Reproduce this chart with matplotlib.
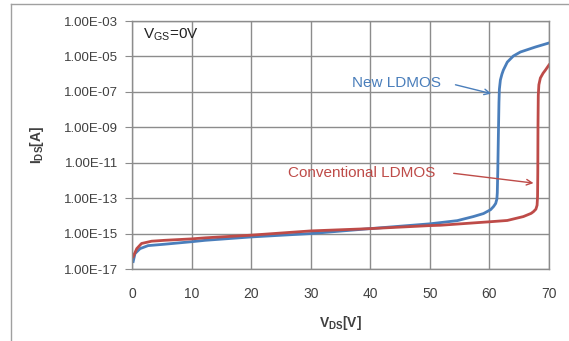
import numpy as np
import matplotlib.pyplot as plt
from matplotlib.lines import Line2D

# 데이터 (그림에서 읽은 값, log10(I_DS))
new_vds = [0.2, 0.5, 1.35, 2.7, 5.5, 10, 12.3, 20, 30, 40, 50, 51.8, 54.6, 57.3, 59.0, 60.2, 60.7, 61.05,
           61.25, 61.32, 61.4, 61.5, 61.6, 61.67, 61.84, 62.1, 62.34, 63.0, 64.0, 65.2, 67.7, 70]
new_log_ids = [-16.58, -16.13, -15.85, -15.68, -15.6, -15.46, -15.38, -15.19, -15.0, -14.72, -14.45, -14.38, -14.27, -14.04, -13.87, -13.65, -13.47, -13.3,
               -13.05, -12.7, -11.5, -9.5, -7.6, -6.85, -6.33, -6.0, -5.77, -5.32, -4.98, -4.75, -4.47, -4.24]

conv_vds = [0.2, 0.8, 1.6, 3.3, 5.5, 10, 12.3, 20, 30, 40, 50, 51.8, 60.2, 63.0, 65.7, 67.0, 67.4, 67.8,
            68.0, 68.08, 68.12, 68.15, 68.2, 68.3, 68.55, 69.0, 69.4, 70]
conv_log_ids = [-16.3, -15.85, -15.56, -15.43, -15.38, -15.3, -15.24, -15.09, -14.85, -14.72, -14.55, -14.53, -14.33, -14.26, -14.04, -13.86, -13.76, -13.62,
                -13.4, -12.9, -11.5, -9.0, -7.2, -6.6, -6.22, -5.95, -5.77, -5.48]

ytick_vals = [-17, -15, -13, -11, -9, -7, -5, -3]
ytick_labels = ['1.00E-17', '1.00E-15', '1.00E-13', '1.00E-11', '1.00E-09', '1.00E-07', '1.00E-05', '1.00E-03']
xtick_vals = [0, 10, 20, 30, 40, 50, 60, 70]

blue = '#4a7ebb'
red = '#be4b48'
grid_c = '#8c8c8c'
text_c = '#404040'

plt.rcParams['font.family'] = ['Liberation Sans', 'DejaVu Sans']

fig = plt.figure(figsize=(5.69, 3.41), dpi=100)
ax = fig.add_axes([132 / 569, 1 - 269 / 341, (549 - 132) / 569, (269 - 21) / 341])

ax.semilogy(new_vds, 10.0 ** np.array(new_log_ids), color=blue, lw=2, solid_joinstyle='round')
ax.semilogy(conv_vds, 10.0 ** np.array(conv_log_ids), color=red, lw=2, solid_joinstyle='round')

ax.set_xlim(0, 70)
ax.set_ylim(1e-17, 1e-3)
ax.set_yticks([10.0 ** v for v in ytick_vals])
ax.set_yticklabels(ytick_labels)
ax.minorticks_off()
ax.set_xticks(xtick_vals)
ax.tick_params(axis='y', length=5, color=grid_c, labelsize=9.5, labelcolor=text_c, pad=5)
ax.tick_params(axis='x', length=0, labelsize=10, labelcolor=text_c, pad=13)
ax.grid(True, color=grid_c, lw=1)
for s in ax.spines.values():
    s.set_color(grid_c)
    s.set_linewidth(1)

ax.set_xlabel('V$_{\\mathregular{DS}}$[V]', fontsize=10, fontweight='bold', color=text_c, labelpad=9)
ax.set_ylabel('I$_{\\mathregular{DS}}$[A]', fontsize=10, fontweight='bold', color=text_c, labelpad=13)

ax.text(1.8, 10.0 ** -3.75, 'V$_{\\mathregular{GS}}$=0V', fontsize=11, color='#222222', va='center')

# 주석
ax.text(44.4, 10.0 ** -6.5, 'New LDMOS', fontsize=11, color=blue, ha='center', va='center')
ax.annotate('', xy=(60.3, 10.0 ** -7.1), xytext=(54.3, 10.0 ** -6.6),
            arrowprops=dict(arrowstyle='->', color=blue, lw=1, shrinkA=0, shrinkB=0))
ax.text(38.6, 10.0 ** -11.6, 'Conventional LDMOS', fontsize=11, color=red, ha='center', va='center')
ax.annotate('', xy=(67.4, 10.0 ** -12.15), xytext=(54.0, 10.0 ** -11.6),
            arrowprops=dict(arrowstyle='->', color=red, lw=1, shrinkA=0, shrinkB=0))

# 바깥 테두리
fig.add_artist(Line2D([11 / 569, 1], [1 - 4 / 341, 1 - 4 / 341], transform=fig.transFigure, color='#a0a0a0', lw=1))
fig.add_artist(Line2D([11 / 569, 11 / 569], [0, 1 - 4 / 341], transform=fig.transFigure, color='#a0a0a0', lw=1))

fig.savefig('out.png', dpi=100)
